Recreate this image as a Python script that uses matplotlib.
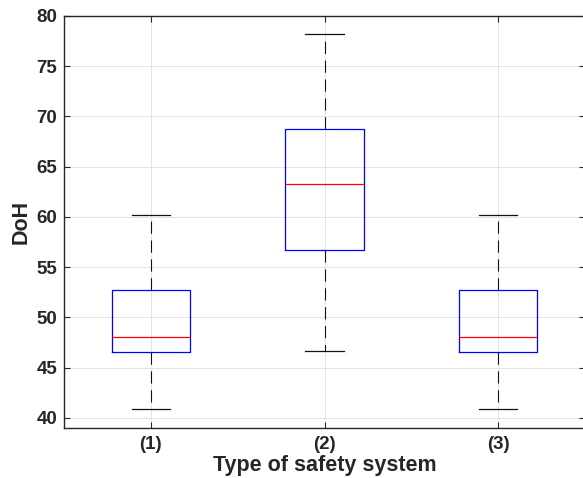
import matplotlib
matplotlib.use("Agg")
import matplotlib.pyplot as plt

# box statistics (MATLAB-style boxplot)
labels = ["(1)", "(2)", "(3)"]
whisker_low = [40.9, 46.7, 40.9]
q1 = [46.6, 56.7, 46.6]
medians = [48.1, 63.3, 48.1]
q3 = [52.7, 68.8, 52.7]
whisker_high = [60.2, 78.2, 60.2]

plt.rcParams["font.family"] = ["Liberation Sans", "DejaVu Sans"]
plt.rcParams["font.weight"] = "bold"

fig = plt.figure(figsize=(5.83, 4.78), dpi=100)
ax = fig.add_axes([0.1098, 0.1046, 0.8937, 0.862])

stats = []
for lab, lo, a, m, b, hi in zip(labels, whisker_low, q1, medians, q3, whisker_high):
    stats.append({"label": lab, "whislo": lo, "q1": a, "med": m, "q3": b,
                  "whishi": hi, "fliers": []})

ax.bxp(stats, positions=[1, 2, 3], widths=0.45, showfliers=False,
       boxprops=dict(color="#0000ff", linewidth=0.9),
       medianprops=dict(color="#ff0000", linewidth=0.9),
       whiskerprops=dict(color="#111111", linewidth=0.8, linestyle=(0, (11, 6))),
       capprops=dict(color="#111111", linewidth=0.9),
       capwidths=0.22)

ax.set_xlim(0.5, 3.5)
ax.set_ylim(39, 80)
ax.set_yticks(range(40, 81, 5))
ax.set_xticks([1, 2, 3])
ax.set_xticklabels(labels)
ax.grid(True, color="#e3e3e3", linewidth=0.7)
ax.set_axisbelow(True)

for s in ax.spines.values():
    s.set_color("#262626")
    s.set_linewidth(1.0)
ax.tick_params(direction="in", length=4, width=0.8, colors="#262626",
               labelsize=13.5, right=True, top=True)
ax.tick_params(axis="x", pad=6)
ax.tick_params(axis="y", pad=5)
for t in ax.get_xticklabels() + ax.get_yticklabels():
    t.set_fontweight("bold")
    t.set_color("#262626")

ax.set_xlabel("Type of safety system", fontsize=15.5, fontweight="bold",
              color="#262626", labelpad=1)
ax.set_ylabel("DoH", fontsize=15.5, fontweight="bold", color="#262626", labelpad=3)

fig.savefig("out.png", dpi=100)
